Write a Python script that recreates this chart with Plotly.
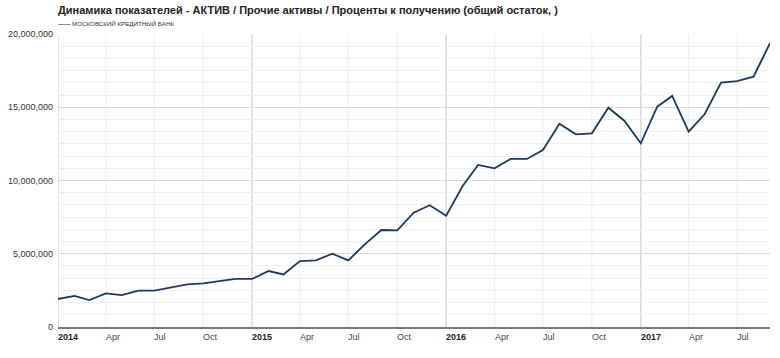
import plotly.graph_objects as go

title_text = "Динамика показателей - АКТИВ / Прочие активы / Проценты к получению (общий остаток, )"
series_name = "МОСКОВСКИЙ КРЕДИТНЫЙ БАНК"

months = [
    "2014-01-01", "2014-02-01", "2014-03-01", "2014-04-01", "2014-05-01", "2014-06-01",
    "2014-07-01", "2014-08-01", "2014-09-01", "2014-10-01", "2014-11-01", "2014-12-01",
    "2015-01-01", "2015-02-01", "2015-03-01", "2015-04-01", "2015-05-01", "2015-06-01",
    "2015-07-01", "2015-08-01", "2015-09-01", "2015-10-01", "2015-11-01", "2015-12-01",
    "2016-01-01", "2016-02-01", "2016-03-01", "2016-04-01", "2016-05-01", "2016-06-01",
    "2016-07-01", "2016-08-01", "2016-09-01", "2016-10-01", "2016-11-01", "2016-12-01",
    "2017-01-01", "2017-02-01", "2017-03-01", "2017-04-01", "2017-05-01", "2017-06-01",
    "2017-07-01", "2017-08-01", "2017-09-01",
]
values = [
    1910000, 2120000, 1840000, 2300000, 2180000, 2480000,
    2480000, 2680000, 2910000, 2980000, 3140000, 3280000,
    3280000, 3820000, 3590000, 4500000, 4550000, 5000000,
    4550000, 5640000, 6620000, 6600000, 7800000, 8310000,
    7600000, 9620000, 11060000, 10830000, 11470000, 11470000,
    12080000, 13880000, 13150000, 13220000, 14970000, 14080000,
    12540000, 15040000, 15770000, 13330000, 14520000, 16680000,
    16790000, 17090000, 19370000,
]

x_tick_vals = [
    "2014-01-01", "2014-04-01", "2014-07-01", "2014-10-01",
    "2015-01-01", "2015-04-01", "2015-07-01", "2015-10-01",
    "2016-01-01", "2016-04-01", "2016-07-01", "2016-10-01",
    "2017-01-01", "2017-04-01", "2017-07-01",
]
x_tick_text = [
    "2014", "Apr", "Jul", "Oct",
    "2015", "Apr", "Jul", "Oct",
    "2016", "Apr", "Jul", "Oct",
    "2017", "Apr", "Jul",
]
y_tick_vals = [0, 5000000, 10000000, 15000000, 20000000]

line_color = "#1d3a5c"

W, H = 780, 358
ML, MR, MT, MB = 58, 10, 34, 31
plot_h = H - MT - MB

fig = go.Figure()
fig.add_trace(go.Scatter(
    x=months, y=values, mode="lines", name=series_name,
    line=dict(color=line_color, width=1.8),
    showlegend=False, hoverinfo="skip",
))

annotations = []
for v, t in zip(x_tick_vals, x_tick_text):
    is_year = t.isdigit()
    annotations.append(dict(
        x=v, y=0, xref="x", yref="paper", xanchor="left", yanchor="top",
        xshift=-2, yshift=-3, showarrow=False,
        text=f"<b>{t}</b>" if is_year else t,
        font=dict(family="Liberation Sans", size=9, color="#222" if is_year else "#444"),
    ))

annotations.append(dict(
    x=0, y=1 + (MT - 23) / plot_h, xref="paper", yref="paper",
    xanchor="left", yanchor="middle", showarrow=False, xshift=-2,
    text=f"<b><span style='color:{line_color}'>——</span></b> {series_name}",
    font=dict(family="Liberation Sans", size=6.2, color="#333"),
))

shapes = []
for v, t in zip(x_tick_vals, x_tick_text):
    is_year = t.isdigit()
    shapes.append(dict(
        type="line", xref="x", yref="paper", x0=v, x1=v, y0=0, y1=1,
        line=dict(color="#d9d9d9" if is_year else "#eeeeee", width=1.5 if is_year else 1),
        layer="below",
    ))

fig.update_layout(
    width=W, height=H,
    margin=dict(l=ML, r=MR, t=MT, b=MB, autoexpand=False),
    paper_bgcolor="white", plot_bgcolor="white",
    title=dict(
        text=f"<b>{title_text}</b>",
        x=ML / W, xref="container", xanchor="left",
        y=1 - 10 / H, yref="container", yanchor="middle",
        font=dict(family="Liberation Sans", size=11, color="#222"),
        automargin=False,
    ),
    xaxis=dict(
        type="date",
        range=["2014-01-01", "2017-09-01"],
        tickvals=x_tick_vals, showticklabels=False,
        showgrid=False,
        showline=True, linecolor="#7a7a7a", linewidth=1.5,
        zeroline=False, automargin=False,
    ),
    yaxis=dict(
        range=[0, 20000000],
        tickvals=y_tick_vals, tickformat=",.0f",
        tickfont=dict(family="Liberation Sans", size=9, color="#333"),
        ticks="", ticklabelstandoff=4,
        showgrid=True, gridcolor="#dadada", gridwidth=1,
        minor=dict(dtick=5000000 / 6, tick0=0, showgrid=True, gridcolor="#efefef", gridwidth=1),
        zeroline=False, showline=False, automargin=False,
    ),
    annotations=annotations,
    shapes=shapes,
    showlegend=False,
)

fig.write_html(
    "out.html",
    config={"displayModeBar": False, "staticPlot": True},
    post_script="document.body.style.margin='0';document.body.style.overflow='hidden';",
)
